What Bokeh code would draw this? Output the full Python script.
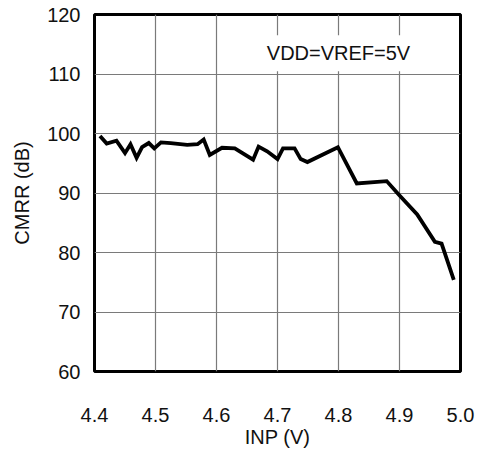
from bokeh.plotting import figure
from bokeh.models import Label, Range1d, FixedTicker
from bokeh.embed import file_html
from bokeh.resources import INLINE

# CMRR versus positive input voltage
inp_v = [4.409, 4.420, 4.436, 4.450, 4.459, 4.469, 4.478, 4.489, 4.498, 4.509,
         4.525, 4.552, 4.569, 4.579, 4.589, 4.609, 4.630, 4.660, 4.669, 4.683,
         4.700, 4.709, 4.728, 4.738, 4.749, 4.799, 4.830, 4.879, 4.899, 4.929,
         4.958, 4.969, 4.989]
cmrr_db = [99.6, 98.3, 98.8, 96.7, 98.2, 95.9, 97.7, 98.4, 97.5, 98.5,
           98.4, 98.1, 98.2, 99.0, 96.4, 97.6, 97.5, 95.6, 97.8, 97.0,
           95.7, 97.5, 97.5, 95.7, 95.2, 97.7, 91.6, 92.0, 89.7, 86.4,
           81.8, 81.5, 75.4]

x_ticks = [4.4, 4.5, 4.6, 4.7, 4.8, 4.9, 5.0]
y_ticks = [60, 70, 80, 90, 100, 110, 120]
condition = "VDD=VREF=5V"

FONT = "Liberation Sans"
TXT = "#111111"

p = figure(width=485, height=450, output_backend="svg", toolbar_location=None,
           x_range=Range1d(4.4, 5.0), y_range=Range1d(60, 120),
           min_border_left=94, min_border_right=25, min_border_top=14,
           min_border_bottom=77)

p.outline_line_color = "black"
p.outline_line_width = 3
p.background_fill_color = "white"
p.border_fill_color = "white"

for ax in (p.xaxis[0], p.yaxis[0]):
    ax.axis_line_color = None
    ax.major_tick_line_color = None
    ax.minor_tick_line_color = None
    ax.major_label_text_font = FONT
    ax.major_label_text_font_size = "20px"
    ax.major_label_text_color = TXT
    ax.axis_label_text_font = FONT
    ax.axis_label_text_font_size = "20px"
    ax.axis_label_text_font_style = "normal"
    ax.axis_label_text_color = TXT

p.xaxis.ticker = FixedTicker(ticks=x_ticks)
p.yaxis.ticker = FixedTicker(ticks=y_ticks)
p.xaxis.major_label_overrides = {t: f"{t:.1f}" for t in x_ticks}
p.xaxis.major_label_standoff = 30
p.yaxis.major_label_standoff = 8
p.xaxis.axis_label = "INP (V)"
p.yaxis.axis_label = "CMRR (dB)"
p.xaxis.axis_label_standoff = 1
p.yaxis.axis_label_standoff = 11

p.xgrid.ticker = FixedTicker(ticks=x_ticks)
p.ygrid.ticker = FixedTicker(ticks=y_ticks)
for g in (p.xgrid[0], p.ygrid[0]):
    g.grid_line_color = "#7a7a7a"
    g.grid_line_width = 1.2

p.line(inp_v, cmrr_db, line_color="black", line_width=3.8, line_join="miter")

p.add_layout(Label(x=4.80, y=113.5, text=condition, text_align="center",
                   text_baseline="middle", text_font=FONT,
                   text_font_size="20px", text_color=TXT,
                   background_fill_color="white", padding=7))

open("out.html", "w").write(file_html(p, INLINE))
